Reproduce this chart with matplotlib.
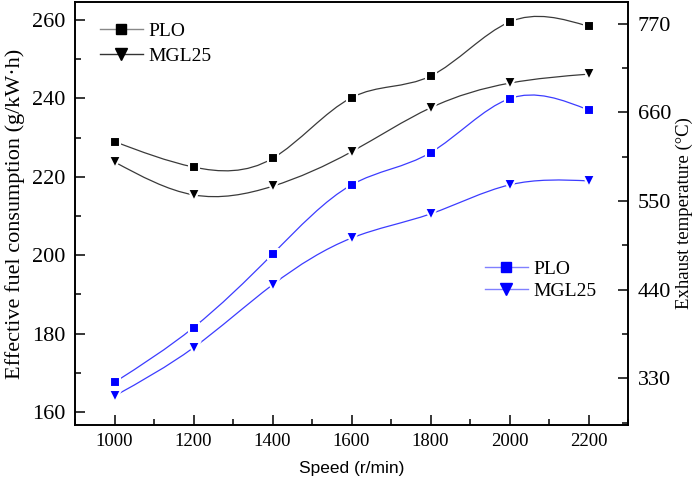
import numpy as np
import matplotlib.pyplot as plt
from matplotlib.path import Path
from matplotlib.patches import PathPatch
from matplotlib.lines import Line2D
from matplotlib.ticker import MultipleLocator

# data
speed = [1000, 1200, 1400, 1600, 1800, 2000, 2200]
bsfc_plo = [229.0, 222.5, 224.7, 240.2, 245.7, 259.5, 258.4]
bsfc_mgl = [223.8, 215.4, 217.6, 226.4, 237.6, 243.9, 246.2]
temp_plo = [325, 393, 484, 570, 610, 677, 663]
temp_mgl = [308, 368, 446, 504, 534, 570, 575]
series_names = ["PLO", "MGL25"]

serif = "Liberation Serif"
sans = "Liberation Sans"
plt.rcParams['font.family'] = serif


def spline_path(x, y):
    # natural cubic spline through the points, written as bezier segments
    x = np.asarray(x, float)
    y = np.asarray(y, float)
    n = len(x)
    h = np.diff(x)
    A = np.zeros((n, n))
    r = np.zeros(n)
    A[0, 0] = A[-1, -1] = 1
    for i in range(1, n - 1):
        A[i, i - 1] = h[i - 1]
        A[i, i] = 2 * (h[i - 1] + h[i])
        A[i, i + 1] = h[i]
        r[i] = 6 * ((y[i + 1] - y[i]) / h[i] - (y[i] - y[i - 1]) / h[i - 1])
    M = np.linalg.solve(A, r)
    verts = [(x[0], y[0])]
    codes = [Path.MOVETO]
    for i in range(n - 1):
        s = (y[i + 1] - y[i]) / h[i]
        d0 = s - h[i] * (2 * M[i] + M[i + 1]) / 6
        d1 = s + h[i] * (M[i] + 2 * M[i + 1]) / 6
        verts += [(x[i] + h[i] / 3, y[i] + d0 * h[i] / 3),
                  (x[i + 1] - h[i] / 3, y[i + 1] - d1 * h[i] / 3),
                  (x[i + 1], y[i + 1])]
        codes += [Path.CURVE4] * 3
    return Path(verts, codes)


W, H = 700, 483
fig = plt.figure(figsize=(W / 100, H / 100), dpi=100)
L, R, T, B = 75, 628, 2, 425
ax1 = fig.add_axes([L / W, 1 - B / H, (R - L) / W, (B - T) / H])
ax2 = ax1.twinx()

black_line = '#3a3a3a'
blue_line = '#3c3cff'
blue = '#0000ff'

for ax, ys, lc in [(ax1, bsfc_plo, black_line), (ax1, bsfc_mgl, black_line),
                   (ax2, temp_plo, blue_line), (ax2, temp_mgl, blue_line)]:
    ax.add_patch(PathPatch(spline_path(speed, ys), fill=False, edgecolor=lc, lw=0.9, zorder=2))

ax1.plot(speed, bsfc_plo, ls='none', marker='s', ms=6.8, mfc='black', mec='white', mew=1.5, zorder=3)
ax1.plot(speed, bsfc_mgl, ls='none', marker='v', ms=8.8, mfc='black', mec='white', mew=1.5, zorder=3)
ax2.plot(speed, temp_plo, ls='none', marker='s', ms=6.8, mfc=blue, mec='white', mew=1.5, zorder=3)
ax2.plot(speed, temp_mgl, ls='none', marker='v', ms=8.8, mfc=blue, mec='white', mew=1.5, zorder=3)

ax1.set_xlim(900, 2300)
ax1.set_ylim(156.7, 264.6)
ax2.set_ylim(272, 797)

ax1.xaxis.set_major_locator(MultipleLocator(200))
ax1.xaxis.set_minor_locator(MultipleLocator(100))
ax1.yaxis.set_major_locator(MultipleLocator(20))
ax1.yaxis.set_minor_locator(MultipleLocator(10))
ax2.yaxis.set_major_locator(MultipleLocator(110))
ax2.yaxis.set_minor_locator(MultipleLocator(55))
ax1.set_xticks(speed)

ax1.tick_params(axis='both', which='major', direction='in', length=7, width=1.1)
ax1.tick_params(axis='both', which='minor', direction='in', length=4, width=1.1)
ax1.tick_params(axis='y', labelsize=16, pad=7)
ax1.tick_params(axis='x', labelsize=13.5, pad=6)
ax2.tick_params(axis='y', which='major', direction='in', length=7, width=1.1, labelsize=16, pad=7)
ax2.tick_params(axis='y', which='minor', direction='in', length=4, width=1.1)
for sp in list(ax1.spines.values()) + list(ax2.spines.values()):
    sp.set_linewidth(1.2)

ax1.set_ylabel('Effective fuel consumption (g/kW\u00b7h)', fontsize=16, labelpad=5)
ax1.set_xlabel('Speed (r/min)', fontsize=12.5, family=sans, labelpad=8)
ax2.set_ylabel('Exhaust temperature (\u00b0C)', fontsize=13.5, labelpad=3)

h_black = [Line2D([], [], color='#888888', lw=1, marker='s', ms=6.8, mfc='black', mec='black'),
           Line2D([], [], color='#333333', lw=1, marker='v', ms=8.8, mfc='black', mec='black')]
h_blue = [Line2D([], [], color='#8080ff', lw=1, marker='s', ms=6.8, mfc=blue, mec=blue),
          Line2D([], [], color='#8080ff', lw=1, marker='v', ms=8.8, mfc=blue, mec=blue)]

ax1.legend(h_black, series_names, loc='upper left', bbox_to_anchor=(100 / W, 1 - 22 / H),
           bbox_transform=fig.transFigure, frameon=False, fontsize=14, borderpad=0,
           borderaxespad=0, handlelength=2.2, handletextpad=0.3, labelspacing=0.4)
ax2.legend(h_blue, series_names, loc='upper left', bbox_to_anchor=(485 / W, 1 - 260 / H),
           bbox_transform=fig.transFigure, frameon=False, fontsize=14, borderpad=0,
           borderaxespad=0, handlelength=2.2, handletextpad=0.3, labelspacing=0.25)

fig.savefig('out.png', dpi=100)
plt.close(fig)
